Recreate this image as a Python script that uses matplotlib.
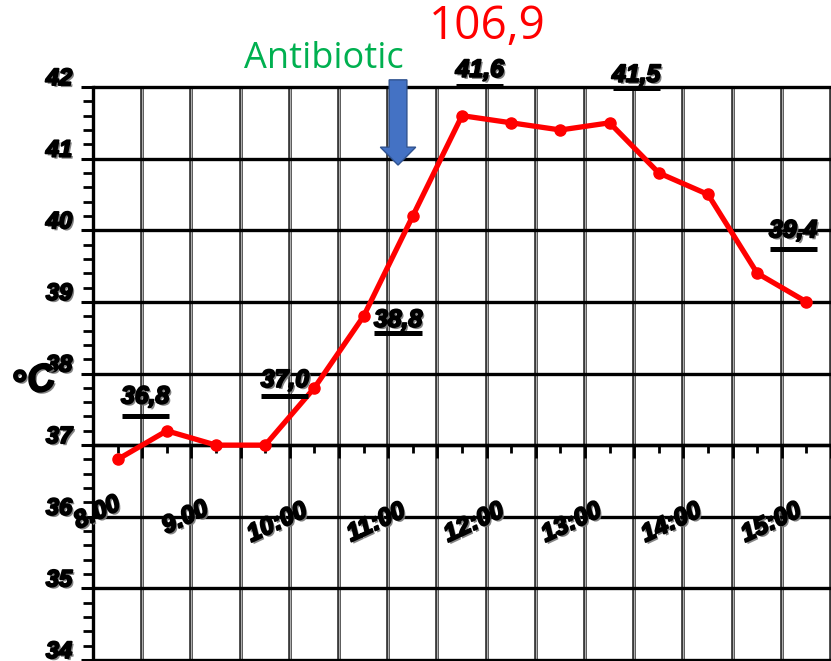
import matplotlib
matplotlib.use("Agg")
import matplotlib.pyplot as plt
import matplotlib.patheffects as pe
from matplotlib import font_manager
from matplotlib.patches import FancyArrow
from matplotlib.transforms import ScaledTranslation
import numpy as np

# ---- data ----
temps = [36.8, 37.2, 37.0, 37.0, 37.8, 38.8, 40.2, 41.6, 41.5, 41.4, 41.5, 40.8, 40.5, 39.4, 39.0]
y_ticks = [34, 35, 36, 37, 38, 39, 40, 41, 42]
time_labels = ["8.00", "9.00", "10:00", "11:00", "12:00", "13:00", "14:00", "15:00"]
note_labels = ["36,8", "37,0", "38,8", "41,6", "41,5", "39,4"]
antibiotic_text = "Antibiotic"
peak_text = "106,9"
unit_text = "°C"

# ---- layout (positions, not data) ----
x_pts = np.arange(len(temps)) + 0.5
time_x = [0.08, 1.87, 3.74, 5.75, 7.74, 9.72, 11.75, 13.78]
time_y = [36.06, 35.99, 35.92, 35.92, 35.92, 35.92, 35.92, 35.92]
note_pos = [(1.06, 37.68, 37.40), (3.9, 37.91, 37.68), (6.2, 38.75, 38.57),
            (7.86, 42.24, 42.01), (11.04, 42.17, 41.99), (14.23, 40.0, 39.74)]

names = {f.name for f in font_manager.fontManager.ttflist}
narrow = "Liberation Sans Narrow" in names
BOLD = (["Liberation Sans Narrow"] if narrow else []) + ["Liberation Sans", "DejaVu Sans"]
fs_scale = 1.0 if narrow else 0.85
shadow = [pe.SimplePatchShadow(offset=(1.5, -1.5), shadow_rgbFace="#777777", alpha=0.9),
          pe.withStroke(linewidth=1.4, foreground="black")]

fig = plt.figure(figsize=(8.31, 6.61), dpi=100)
ax = fig.add_axes([93 / 831, 1 / 661, 738 / 831, 573 / 661])
ax.set_xlim(0, 15)
ax.set_ylim(34, 42)

# vertical grid (double line look)
gx = np.arange(0, 16)
ax.vlines(gx, 34, 42, colors="#2a2a2a", lw=2.6, zorder=1)
ax.vlines(gx, 34, 42, colors="#b0b0b0", lw=0.9, zorder=1.1)
# horizontal grid
ax.hlines(y_ticks, 0, 15, colors="black", lw=2.4, zorder=1.2, clip_on=False)

for s in ["top", "right"]:
    ax.spines[s].set_visible(False)
ax.spines["left"].set_linewidth(2.4)
ax.spines["bottom"].set_position(("data", 37))
ax.spines["bottom"].set_linewidth(2.4)

# y ticks
ax.set_yticks(y_ticks)
ax.set_yticks(np.arange(34, 42.01, 0.2), minor=True)
ax.tick_params(axis="y", which="major", length=9, width=2.2, direction="out", pad=6)
ax.tick_params(axis="y", which="minor", length=7, width=2.0, direction="out")
ax.set_yticklabels([str(v) for v in y_ticks], fontsize=20 * fs_scale, fontweight="bold",
                   fontstyle="italic", family=BOLD)
off = ScaledTranslation(0, 11 / 100, fig.dpi_scale_trans)
for lab in ax.get_yticklabels():
    lab.set_transform(lab.get_transform() + off)
    lab.set_path_effects(shadow)

# x ticks on the 37 line
ax.set_xticks(np.arange(0, 15.01, 1))
ax.set_xticks(np.arange(0.5, 15, 1), minor=True)
ax.tick_params(axis="x", which="major", length=9, width=2.0, direction="out", labelbottom=False)
ax.tick_params(axis="x", which="minor", length=6, width=2.0, direction="out")

# data line
ax.plot(x_pts, temps, color="#FF0000", lw=3.8, marker="o", ms=8, zorder=5,
        solid_joinstyle="round", solid_capstyle="round")

# time labels
for tx, ty, t in zip(time_x, time_y, time_labels):
    ax.text(tx, ty, t, rotation=25, ha="center", va="center", fontsize=21 * fs_scale,
            fontweight="bold", fontstyle="italic", family=BOLD,
            path_effects=shadow, zorder=6, clip_on=False)

# value notes with underline
for (nx, ny, uy), t in zip(note_pos, note_labels):
    ax.text(nx, ny, t, ha="center", va="center", fontsize=21 * fs_scale, fontweight="bold",
            fontstyle="italic", family=BOLD, path_effects=shadow, zorder=6, clip_on=False)
    ax.plot([nx - 0.48, nx + 0.48], [uy, uy], color="black", lw=3.6, zorder=6,
            clip_on=False, solid_capstyle="butt")

# unit label
fig.text(34 / 831, 1 - 383 / 661, unit_text, rotation=15, ha="center", va="center",
         fontsize=32 * fs_scale, fontweight="bold", fontstyle="italic", family=BOLD,
         path_effects=shadow)

# antibiotic annotation
fig.text(324 / 831, 1 - 59 / 661, antibiotic_text, ha="center", va="center",
         fontsize=26, color="#00B050", family=["Open Sans", "DejaVu Sans"])
fig.text(487 / 831, 1 - 27 / 661, peak_text, ha="center", va="center",
         fontsize=33, color="#FF0000", family=["Open Sans", "DejaVu Sans"])
arrow = FancyArrow(6.2, 42.1, 0, -1.19, width=0.36, head_width=0.72, head_length=0.25,
                   length_includes_head=True, facecolor="#4472C4", edgecolor="#2F528F",
                   lw=1.0, zorder=7, clip_on=False)
ax.add_patch(arrow)

fig.savefig("out.png", dpi=100)
